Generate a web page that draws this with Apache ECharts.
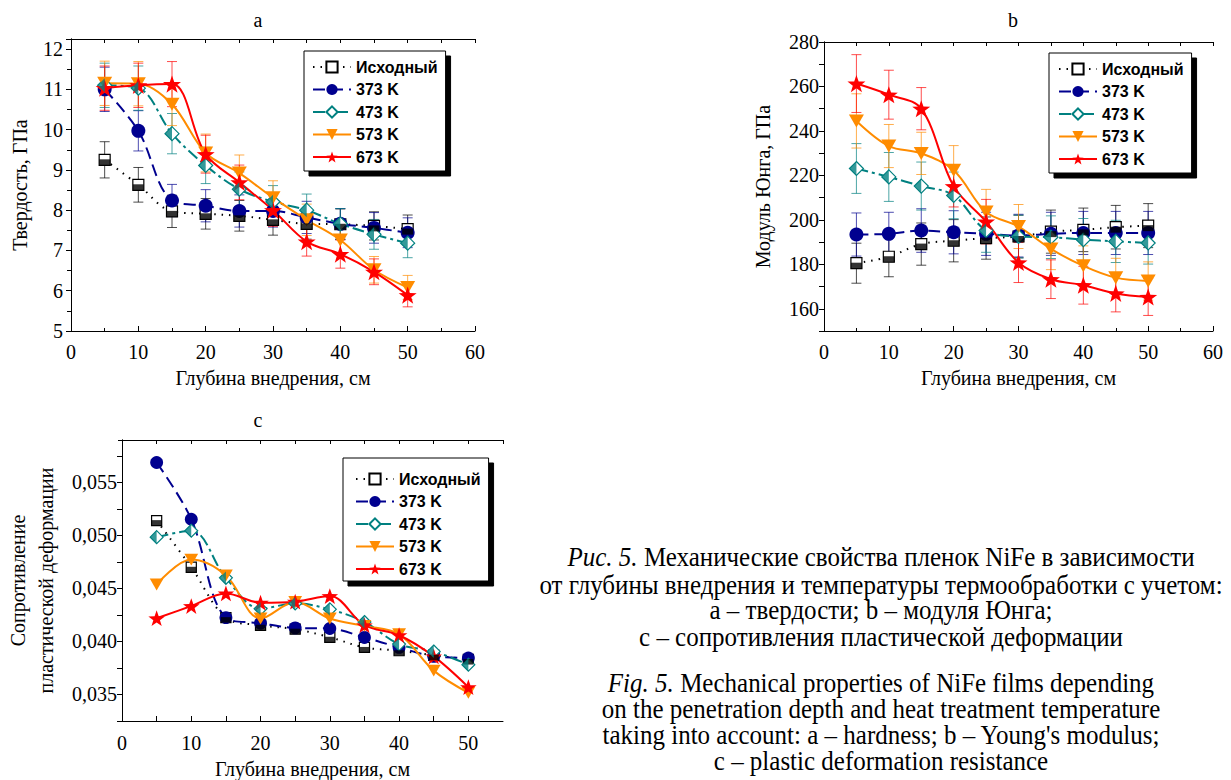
<!DOCTYPE html>
<html>
<head>
<meta charset="utf-8">
<script src="https://cdn.jsdelivr.net/npm/echarts@6/dist/echarts.min.js"></script>
<style>
  html, body { margin: 0; background: #fff; }
  #chart { width: 1231px; height: 780px; }
</style>
</head>
<body>
<div id="chart"></div>
<script>
// depth of indentation, cm
const depth = [5, 10, 15, 20, 25, 30, 35, 40, 45, 50];
const names = ['Исходный', '373 K', '473 K', '573 K', '673 K'];

// a - hardness, GPa
const hardInit = [9.25, 8.63, 7.97, 7.91, 7.86, 7.76, 7.66, 7.65, 7.61, 7.53];
const hard373  = [11.0, 9.97, 8.24, 8.11, 7.98, 7.98, 7.82, 7.66, 7.56, 7.44];
const hard473  = [11.1, 11.03, 9.9, 9.11, 8.52, 8.21, 8.0, 7.66, 7.4, 7.18];
const hard573  = [11.15, 11.14, 10.63, 9.42, 8.92, 8.31, 7.76, 7.26, 6.52, 6.08];
const hard673  = [11.03, 11.1, 11.13, 9.39, 8.69, 8.0, 7.22, 6.91, 6.47, 5.89];
const hardInitErr = [0.45, 0.43, 0.4, 0.38, 0.38, 0.38, 0.38, 0.38, 0.35, 0.35];
const hard373Err  = [0.55, 0.5, 0.4, 0.4, 0.4, 0.4, 0.4, 0.38, 0.38, 0.37];
const hard473Err  = [0.55, 0.55, 0.5, 0.45, 0.43, 0.4, 0.4, 0.38, 0.37, 0.36];
const hard573Err  = [0.55, 0.55, 0.53, 0.47, 0.45, 0.42, 0.39, 0.36, 0.33, 0.3];
const hard673Err  = [0.55, 0.55, 0.56, 0.47, 0.43, 0.4, 0.36, 0.35, 0.32, 0.29];

// b - Young's modulus, GPa
const modInit = [180.5, 183.4, 189.1, 190.6, 191.8, 192.5, 194.7, 195.5, 196.7, 197.4];
const mod373  = [193.4, 193.7, 195.2, 194.4, 193.7, 192.9, 193.7, 194.1, 194.1, 194.1];
const mod473  = [223.1, 219.3, 215.2, 211.0, 195.2, 192.5, 192.2, 191.1, 190.3, 189.6];
const mod573  = [244.5, 233.2, 229.9, 222.3, 203.5, 197.0, 186.9, 179.3, 174.0, 172.5];
const mod673  = [261.3, 256.3, 250.0, 215.1, 199.2, 180.8, 173.3, 170.6, 166.9, 165.3];
const modInitErr = [9, 9, 9.5, 9.5, 9.5, 9.6, 9.7, 9.8, 9.8, 9.9];
const mod373Err  = [9.7, 9.7, 9.8, 9.7, 9.7, 9.6, 9.7, 9.7, 9.7, 9.7];
const mod473Err  = [11.2, 11, 10.8, 10.5, 9.8, 9.6, 9.6, 9.5, 9.5, 9.5];
const mod573Err  = [12.2, 9.7, 9.5, 11.1, 10.2, 9.9, 9.3, 9, 8.7, 8.6];
const mod673Err  = [13, 11, 9.5, 9.3, 10, 9, 8.7, 8.5, 8.3, 8.3];

// c - plastic deformation resistance
const resInit = [0.0514, 0.0470, 0.04225, 0.04153, 0.04116, 0.0404, 0.03944, 0.03913, 0.0387, 0.0383];
const res373  = [0.05688, 0.05153, 0.04225, 0.04172, 0.04128, 0.04122, 0.04038, 0.03944, 0.0386, 0.03844];
const res473  = [0.04984, 0.05044, 0.0460, 0.04309, 0.04359, 0.04303, 0.04184, 0.03975, 0.03906, 0.03781];
const res573  = [0.04538, 0.04772, 0.04622, 0.04216, 0.04372, 0.04216, 0.04147, 0.04069, 0.03725, 0.03516];
const res673  = [0.04219, 0.04334, 0.04453, 0.04366, 0.04375, 0.04428, 0.04153, 0.04059, 0.03859, 0.03569];

const colors = ['#000000', '#00008f', '#008080', '#ff8c00', '#ff0000'];
const STAR = 'path://M50,0 L61.76,33.82 L97.55,34.55 L69.02,56.18 L79.39,90.45 L50,70 L20.61,90.45 L30.98,56.18 L2.45,34.55 L38.24,33.82 Z';
const HALF_DIAMOND = 'path://M1,0 L1,2 L0,1 Z';

const serif = '"Liberation Serif", "Times New Roman", serif';
const sans = '"Liberation Sans", Arial, sans-serif';

const chart = echarts.init(document.getElementById('chart'), null, { renderer: 'svg' });

const grids = [
  { left: 71, top: 39, width: 404, height: 292 },
  { left: 824, top: 42, width: 389, height: 289 },
  { left: 122, top: 440, width: 381, height: 282 }
];

const xAxes = [];
const yAxes = [];

function addAxes(g, x, y) {
  const line = { show: true, lineStyle: { color: '#000', width: 1 } };
  xAxes.push({
    type: 'value', gridIndex: g, position: 'bottom',
    min: x.min, max: x.max, interval: x.interval,
    axisLine: line,
    axisTick: { inside: true, length: 5, lineStyle: { color: '#000' } },
    minorTick: { show: x.minor, splitNumber: 2, length: 3, lineStyle: { color: '#000' } },
    splitLine: { show: false },
    axisLabel: { color: '#000', fontFamily: serif, fontSize: 20, margin: x.margin, formatter: x.formatter, showMaxLabel: x.showMax },
    name: 'Глубина внедрения, см', nameLocation: 'middle', nameGap: x.nameGap,
    nameTextStyle: { color: '#000', fontFamily: serif, fontSize: 20 }
  });
  xAxes.push({
    type: 'value', gridIndex: g, position: 'top',
    min: x.min, max: x.max, interval: 5,
    axisLine: line,
    axisTick: { inside: true, length: 4, lineStyle: { color: '#000' } },
    axisLabel: { show: false }, splitLine: { show: false }
  });
  yAxes.push({
    type: 'value', gridIndex: g, position: 'left',
    min: y.min, max: y.max, interval: y.interval,
    axisLine: line,
    axisTick: { inside: false, length: 5, lineStyle: { color: '#000' } },
    minorTick: { show: y.minor, splitNumber: 2, length: 3, lineStyle: { color: '#000' } },
    splitLine: { show: false },
    axisLabel: { color: '#000', fontFamily: serif, fontSize: 20, margin: y.margin, formatter: y.formatter, showMaxLabel: y.showMax },
    name: y.name, nameLocation: 'middle', nameGap: y.nameGap,
    nameTextStyle: { color: '#000', fontFamily: serif, fontSize: 20, lineHeight: 28 }
  });
  yAxes.push({
    type: 'value', gridIndex: g, position: 'right',
    min: y.min, max: y.max, interval: y.tick,
    axisLine: line,
    axisTick: { inside: true, length: 4, lineStyle: { color: '#000' } },
    axisLabel: { show: false }, splitLine: { show: false }
  });
}

addAxes(0,
  { min: 0, max: 60, interval: 10, minor: true, margin: 11, nameGap: 37, showMax: true },
  { min: 5, max: 12.25, interval: 1, tick: 0.5, minor: true, margin: 8, showMax: false,
    name: 'Твердость, ГПа', nameGap: 37 });
addAxes(1,
  { min: 0, max: 60, interval: 10, minor: true, margin: 11, nameGap: 37, showMax: true },
  { min: 150, max: 280, interval: 10, tick: 10, minor: false, margin: 5, nameGap: 47, showMax: true,
    name: 'Модуль Юнга, ГПа', formatter: v => (v % 20 === 0 ? v : '') });
addAxes(2,
  { min: 0, max: 55, interval: 5, minor: false, margin: 12, nameGap: 38, showMax: false,
    formatter: v => (v % 10 === 0 ? v : '') },
  { min: 0.0325, max: 0.059, interval: 0.0025, tick: 0.0025, minor: false, margin: 5, nameGap: 62, showMax: false,
    name: 'Сопротивление\nпластической деформации',
    formatter: v => {
      const k = v / 0.005;
      return Math.abs(k - Math.round(k)) < 1e-6 ? v.toFixed(3).replace('.', ',') : '';
    } });

const lineTypes = [[1.5, 6], [12, 6], [12, 4, 3, 4], 'solid', 'solid'];

function pts(values) {
  return depth.map((d, i) => [d, values[i]]);
}

function errSeries(g, k, values, errs) {
  const color = colors[k];
  return {
    type: 'custom', name: names[k] + ' err', xAxisIndex: g * 2, yAxisIndex: g * 2, z: 1,
    data: depth.map((d, i) => [d, values[i] - errs[i], values[i] + errs[i]]),
    encode: { x: 0, y: [1, 2] },
    renderItem: (params, api) => {
      const lo = api.coord([api.value(0), api.value(1)]);
      const hi = api.coord([api.value(0), api.value(2)]);
      const w = 5;
      const style = { stroke: color, lineWidth: 1, opacity: 0.7 };
      return {
        type: 'group', children: [
          { type: 'line', shape: { x1: lo[0], y1: lo[1], x2: hi[0], y2: hi[1] }, style },
          { type: 'line', shape: { x1: lo[0] - w, y1: lo[1], x2: lo[0] + w, y2: lo[1] }, style },
          { type: 'line', shape: { x1: hi[0] - w, y1: hi[1], x2: hi[0] + w, y2: hi[1] }, style }
        ]
      };
    }
  };
}

function mainSeries(g, k, values, scale) {
  const s = {
    type: 'line', name: names[k], xAxisIndex: g * 2, yAxisIndex: g * 2, z: 2,
    data: pts(values), smooth: 0.35,
    lineStyle: { color: colors[k], width: 2, type: lineTypes[k] },
    itemStyle: { color: colors[k] }
  };
  if (k === 0) {
    s.symbol = 'rect'; s.symbolSize = 11 * scale;
    s.itemStyle = { color: '#fff', borderColor: '#000', borderWidth: 1.2 };
  } else if (k === 1) {
    s.symbol = 'circle'; s.symbolSize = 14 * scale;
  } else if (k === 2) {
    s.symbol = 'diamond'; s.symbolSize = 14 * scale;
    s.itemStyle = { color: '#fff', borderColor: colors[2], borderWidth: 1.2 };
  } else if (k === 3) {
    s.symbol = 'triangle'; s.symbolRotate = 180; s.symbolSize = [15 * scale, 13 * scale];
  } else {
    s.symbol = STAR; s.symbolKeepAspect = true; s.symbolSize = 18 * scale;
  }
  return s;
}

// half-filled overlays for the square and diamond markers
function halfSeries(g, k, values, scale) {
  const s = {
    type: 'scatter', name: names[k] + ' half', xAxisIndex: g * 2, yAxisIndex: g * 2, z: 3,
    data: pts(values), itemStyle: { color: colors[k] }, silent: true
  };
  if (k === 0) {
    s.symbol = 'rect'; s.symbolSize = [11 * scale, 6 * scale]; s.symbolOffset = [0, 2.5 * scale];
  } else {
    s.symbol = HALF_DIAMOND; s.symbolSize = [7 * scale, 14 * scale]; s.symbolOffset = [-3.5 * scale, 0];
  }
  return s;
}

const series = [];
const sets = [
  { g: 0, vals: [hardInit, hard373, hard473, hard573, hard673], errs: [hardInitErr, hard373Err, hard473Err, hard573Err, hard673Err], scale: 1 },
  { g: 1, vals: [modInit, mod373, mod473, mod573, mod673], errs: [modInitErr, mod373Err, mod473Err, mod573Err, mod673Err], scale: 1 },
  { g: 2, vals: [resInit, res373, res473, res573, res673], errs: null, scale: 0.92 }
];
sets.forEach(set => {
  if (set.errs) set.vals.forEach((v, k) => series.push(errSeries(set.g, k, v, set.errs[k])));
  set.vals.forEach((v, k) => {
    series.push(mainSeries(set.g, k, v, set.scale));
    if (k === 0 || k === 2) series.push(halfSeries(set.g, k, v, set.scale));
  });
});

function legendAt(left, top, padding) {
  return {
    left, top, orient: 'vertical', data: names, padding,
    itemWidth: 38, itemHeight: 14, itemGap: 6.5,
    backgroundColor: '#fff', borderColor: '#000', borderWidth: 1,
    shadowColor: '#000', shadowBlur: 0, shadowOffsetX: 5, shadowOffsetY: 5,
    selectedMode: false,
    textStyle: { color: '#000', fontFamily: sans, fontWeight: 'bold', fontSize: 16 }
  };
}

const capX = 881;
const capLines = [
  { y: 557, text: '{i|Рис. 5.} Механические свойства пленок NiFe в зависимости' },
  { y: 585, text: 'от глубины внедрения и температуры термообработки с учетом:' },
  { y: 610, text: 'а – твердости; b – модуля Юнга;' },
  { y: 637, text: 'с – сопротивления пластической деформации' },
  { y: 683, text: '{i|Fig. 5.} Mechanical properties of NiFe films depending' },
  { y: 709, text: 'on the penetration depth and heat treatment temperature' },
  { y: 735, text: "taking into account: a – hardness; b – Young's modulus;" },
  { y: 761, text: 'c – plastic deformation resistance' }
];

const graphics = [
  { type: 'text', x: 258, y: 20, style: { text: 'a', fontFamily: serif, fontSize: 20, fill: '#000', align: 'center', verticalAlign: 'middle' } },
  { type: 'text', x: 1013, y: 20, style: { text: 'b', fontFamily: serif, fontSize: 20, fill: '#000', align: 'center', verticalAlign: 'middle' } },
  { type: 'text', x: 258, y: 420, style: { text: 'c', fontFamily: serif, fontSize: 20, fill: '#000', align: 'center', verticalAlign: 'middle' } }
].concat(capLines.map(l => ({
  type: 'text', x: capX, y: l.y, scaleY: 1.1,
  style: {
    text: l.text, fontFamily: serif, fontSize: 25, fill: '#000', align: 'center', verticalAlign: 'middle',
    rich: { i: { fontFamily: serif, fontSize: 25, fontStyle: 'italic', fill: '#000' } }
  }
})));

chart.setOption({
  backgroundColor: '#fff',
  animation: false,
  grid: grids,
  xAxis: xAxes,
  yAxis: yAxes,
  legend: [
    legendAt(304, 51, [8, 8, 6, 8]),
    legendAt(1049, 53, [8, 8, 6, 9]),
    legendAt(343, 458, [13, 8, 4, 12])
  ],
  graphic: graphics,
  series
});
</script>
</body>
</html>
